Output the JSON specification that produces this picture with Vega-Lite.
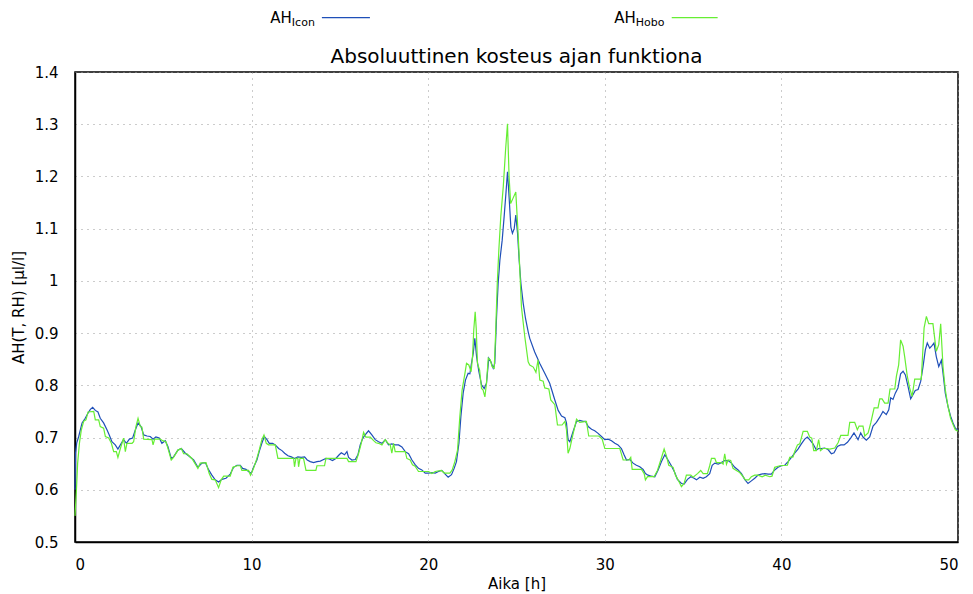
{
  "$schema": "https://vega.github.io/schema/vega-lite/v6.json",
  "width": 883,
  "height": 470,
  "autosize": {"type": "none"},
  "padding": {"left": 75, "top": 72, "right": 15, "bottom": 52},
  "background": "white",
  "config": {
    "font": "DejaVu Sans",
    "view": {"stroke": "black", "strokeWidth": 1.5},
    "axis": {
      "labelFont": "DejaVu Sans",
      "labelFontSize": 15,
      "labelColor": "black",
      "titleFont": "DejaVu Sans",
      "titleFontSize": 15,
      "titleFontWeight": "normal",
      "titleColor": "black",
      "domainColor": "black",
      "domainWidth": 1.5,
      "ticks": false,
      "grid": true,
      "gridColor": "#999999",
      "gridDash": [1, 5],
      "gridWidth": 1
    }
  },
  "datasets": {
    "icon": [
      {"t":0,"v":0.60},{"t":0.03,"v":0.67},{"t":0.10,"v":0.69},{"t":0.21,"v":0.702},{"t":0.40,"v":0.728},{"t":0.58,"v":0.737},{"t":0.74,"v":0.747},{"t":0.87,"v":0.754},{"t":1.00,"v":0.758},{"t":1.15,"v":0.752},{"t":1.30,"v":0.749},{"t":1.43,"v":0.737},{"t":1.62,"v":0.728},{"t":1.81,"v":0.715},{"t":1.94,"v":0.705},{"t":2.09,"v":0.692},{"t":2.28,"v":0.686},{"t":2.43,"v":0.678},{"t":2.57,"v":0.686},{"t":2.75,"v":0.696},{"t":2.91,"v":0.689},{"t":3.08,"v":0.697},{"t":3.26,"v":0.699},{"t":3.42,"v":0.715},{"t":3.57,"v":0.728},{"t":3.74,"v":0.721},{"t":3.89,"v":0.705},{"t":4.08,"v":0.703},{"t":4.26,"v":0.702},{"t":4.42,"v":0.697},{"t":4.58,"v":0.701},{"t":4.77,"v":0.699},{"t":4.92,"v":0.689},{"t":5.11,"v":0.694},{"t":5.26,"v":0.683},{"t":5.45,"v":0.660},{"t":5.58,"v":0.663},{"t":5.83,"v":0.676},{"t":6.02,"v":0.679},{"t":6.25,"v":0.670},{"t":6.43,"v":0.665},{"t":6.72,"v":0.657},{"t":6.96,"v":0.643},{"t":7.19,"v":0.651},{"t":7.38,"v":0.652},{"t":7.57,"v":0.638},{"t":7.75,"v":0.628},{"t":7.94,"v":0.619},{"t":8.13,"v":0.615},{"t":8.32,"v":0.620},{"t":8.55,"v":0.622},{"t":8.79,"v":0.630},{"t":8.98,"v":0.643},{"t":9.17,"v":0.647},{"t":9.36,"v":0.647},{"t":9.49,"v":0.641},{"t":9.68,"v":0.639},{"t":9.83,"v":0.635},{"t":9.98,"v":0.631},{"t":10.11,"v":0.643},{"t":10.30,"v":0.657},{"t":10.43,"v":0.673},{"t":10.58,"v":0.689},{"t":10.72,"v":0.702},{"t":10.87,"v":0.696},{"t":11.00,"v":0.689},{"t":11.19,"v":0.689},{"t":11.34,"v":0.686},{"t":11.53,"v":0.679},{"t":11.72,"v":0.675},{"t":11.87,"v":0.670},{"t":12.06,"v":0.665},{"t":12.25,"v":0.663},{"t":12.43,"v":0.660},{"t":12.62,"v":0.663},{"t":12.81,"v":0.662},{"t":13.00,"v":0.663},{"t":13.15,"v":0.657},{"t":13.32,"v":0.654},{"t":13.51,"v":0.652},{"t":13.70,"v":0.654},{"t":13.89,"v":0.655},{"t":14.08,"v":0.658},{"t":14.21,"v":0.660},{"t":14.40,"v":0.659},{"t":14.58,"v":0.656},{"t":14.77,"v":0.660},{"t":14.96,"v":0.667},{"t":15.08,"v":0.671},{"t":15.26,"v":0.667},{"t":15.40,"v":0.673},{"t":15.49,"v":0.662},{"t":15.68,"v":0.657},{"t":15.87,"v":0.658},{"t":16.02,"v":0.667},{"t":16.15,"v":0.686},{"t":16.30,"v":0.699},{"t":16.43,"v":0.705},{"t":16.62,"v":0.713},{"t":16.81,"v":0.705},{"t":17.00,"v":0.696},{"t":17.19,"v":0.692},{"t":17.38,"v":0.689},{"t":17.57,"v":0.696},{"t":17.75,"v":0.686},{"t":17.94,"v":0.688},{"t":18.13,"v":0.686},{"t":18.32,"v":0.686},{"t":18.51,"v":0.682},{"t":18.70,"v":0.673},{"t":18.89,"v":0.669},{"t":19.08,"v":0.657},{"t":19.26,"v":0.648},{"t":19.45,"v":0.641},{"t":19.64,"v":0.638},{"t":19.83,"v":0.632},{"t":20.02,"v":0.632},{"t":20.21,"v":0.633},{"t":20.40,"v":0.632},{"t":20.58,"v":0.635},{"t":20.77,"v":0.637},{"t":20.96,"v":0.630},{"t":21.13,"v":0.624},{"t":21.32,"v":0.629},{"t":21.47,"v":0.641},{"t":21.60,"v":0.654},{"t":21.74,"v":0.689},{"t":21.85,"v":0.740},{"t":21.98,"v":0.785},{"t":22.11,"v":0.810},{"t":22.26,"v":0.823},{"t":22.36,"v":0.822},{"t":22.45,"v":0.842},{"t":22.55,"v":0.861},{"t":22.64,"v":0.890},{"t":22.74,"v":0.855},{"t":22.87,"v":0.826},{"t":23.02,"v":0.801},{"t":23.17,"v":0.794},{"t":23.30,"v":0.804},{"t":23.43,"v":0.852},{"t":23.55,"v":0.845},{"t":23.68,"v":0.833},{"t":23.77,"v":0.842},{"t":23.87,"v":0.931},{"t":23.96,"v":0.995},{"t":24.06,"v":1.040},{"t":24.19,"v":1.078},{"t":24.30,"v":1.123},{"t":24.40,"v":1.167},{"t":24.49,"v":1.209},{"t":24.58,"v":1.161},{"t":24.68,"v":1.103},{"t":24.77,"v":1.091},{"t":24.87,"v":1.100},{"t":24.96,"v":1.126},{"t":25.06,"v":1.091},{"t":25.15,"v":1.040},{"t":25.25,"v":0.995},{"t":25.38,"v":0.957},{"t":25.51,"v":0.928},{"t":25.66,"v":0.903},{"t":25.75,"v":0.890},{"t":26.03,"v":0.864},{"t":26.32,"v":0.842},{"t":26.60,"v":0.823},{"t":26.88,"v":0.804},{"t":27.17,"v":0.772},{"t":27.36,"v":0.752},{"t":27.55,"v":0.741},{"t":27.74,"v":0.738},{"t":27.83,"v":0.728},{"t":27.92,"v":0.696},{"t":28.02,"v":0.692},{"t":28.21,"v":0.712},{"t":28.40,"v":0.731},{"t":28.58,"v":0.733},{"t":28.77,"v":0.731},{"t":28.91,"v":0.731},{"t":29.06,"v":0.721},{"t":29.25,"v":0.716},{"t":29.43,"v":0.713},{"t":29.62,"v":0.708},{"t":29.81,"v":0.702},{"t":30.00,"v":0.696},{"t":30.19,"v":0.697},{"t":30.38,"v":0.694},{"t":30.57,"v":0.689},{"t":30.75,"v":0.686},{"t":30.94,"v":0.679},{"t":31.09,"v":0.667},{"t":31.23,"v":0.657},{"t":31.42,"v":0.658},{"t":31.60,"v":0.651},{"t":31.79,"v":0.647},{"t":31.98,"v":0.644},{"t":32.17,"v":0.639},{"t":32.30,"v":0.631},{"t":32.45,"v":0.628},{"t":32.64,"v":0.626},{"t":32.83,"v":0.625},{"t":33.02,"v":0.638},{"t":33.21,"v":0.654},{"t":33.40,"v":0.667},{"t":33.58,"v":0.657},{"t":33.77,"v":0.646},{"t":33.96,"v":0.633},{"t":34.11,"v":0.620},{"t":34.34,"v":0.612},{"t":34.49,"v":0.611},{"t":34.68,"v":0.620},{"t":34.87,"v":0.625},{"t":35.06,"v":0.622},{"t":35.19,"v":0.619},{"t":35.38,"v":0.624},{"t":35.57,"v":0.622},{"t":35.75,"v":0.625},{"t":35.94,"v":0.631},{"t":36.08,"v":0.647},{"t":36.23,"v":0.651},{"t":36.42,"v":0.649},{"t":36.60,"v":0.652},{"t":36.79,"v":0.656},{"t":36.98,"v":0.656},{"t":37.17,"v":0.651},{"t":37.36,"v":0.643},{"t":37.55,"v":0.638},{"t":37.74,"v":0.631},{"t":37.92,"v":0.620},{"t":38.11,"v":0.612},{"t":38.30,"v":0.617},{"t":38.49,"v":0.622},{"t":38.68,"v":0.628},{"t":38.87,"v":0.630},{"t":39.06,"v":0.631},{"t":39.25,"v":0.630},{"t":39.43,"v":0.630},{"t":39.62,"v":0.638},{"t":39.81,"v":0.643},{"t":40.00,"v":0.646},{"t":40.19,"v":0.647},{"t":40.38,"v":0.654},{"t":40.57,"v":0.662},{"t":40.75,"v":0.670},{"t":40.94,"v":0.678},{"t":41.13,"v":0.688},{"t":41.32,"v":0.697},{"t":41.47,"v":0.701},{"t":41.60,"v":0.696},{"t":41.79,"v":0.688},{"t":41.98,"v":0.676},{"t":42.11,"v":0.679},{"t":42.26,"v":0.679},{"t":42.45,"v":0.680},{"t":42.64,"v":0.677},{"t":42.83,"v":0.669},{"t":42.98,"v":0.671},{"t":43.17,"v":0.683},{"t":43.36,"v":0.686},{"t":43.55,"v":0.686},{"t":43.74,"v":0.691},{"t":43.92,"v":0.699},{"t":44.11,"v":0.709},{"t":44.25,"v":0.701},{"t":44.34,"v":0.696},{"t":44.49,"v":0.709},{"t":44.62,"v":0.701},{"t":44.81,"v":0.695},{"t":45.00,"v":0.701},{"t":45.19,"v":0.722},{"t":45.38,"v":0.729},{"t":45.57,"v":0.739},{"t":45.75,"v":0.750},{"t":45.94,"v":0.744},{"t":46.08,"v":0.753},{"t":46.19,"v":0.776},{"t":46.32,"v":0.773},{"t":46.45,"v":0.785},{"t":46.60,"v":0.795},{"t":46.75,"v":0.822},{"t":46.89,"v":0.827},{"t":47.02,"v":0.820},{"t":47.17,"v":0.798},{"t":47.32,"v":0.774},{"t":47.45,"v":0.782},{"t":47.58,"v":0.790},{"t":47.74,"v":0.792},{"t":47.89,"v":0.808},{"t":48.02,"v":0.836},{"t":48.15,"v":0.868},{"t":48.26,"v":0.881},{"t":48.40,"v":0.871},{"t":48.53,"v":0.876},{"t":48.64,"v":0.881},{"t":48.77,"v":0.855},{"t":48.91,"v":0.836},{"t":49.06,"v":0.848},{"t":49.15,"v":0.824},{"t":49.28,"v":0.785},{"t":49.43,"v":0.760},{"t":49.58,"v":0.741},{"t":49.72,"v":0.728},{"t":49.85,"v":0.718},{"t":50.00,"v":0.714}
    ],
    "hobo": [
      {"t":0,"v":0.55},{"t":0.08,"v":0.599},{"t":0.15,"v":0.651},{"t":0.25,"v":0.689},{"t":0.36,"v":0.715},{"t":0.49,"v":0.731},{"t":0.62,"v":0.734},{"t":0.74,"v":0.749},{"t":1.06,"v":0.750},{"t":1.15,"v":0.734},{"t":1.34,"v":0.734},{"t":1.43,"v":0.721},{"t":1.62,"v":0.718},{"t":1.72,"v":0.702},{"t":1.91,"v":0.699},{"t":2.06,"v":0.689},{"t":2.19,"v":0.673},{"t":2.34,"v":0.673},{"t":2.43,"v":0.662},{"t":2.57,"v":0.679},{"t":2.75,"v":0.699},{"t":2.85,"v":0.673},{"t":2.94,"v":0.689},{"t":3.23,"v":0.689},{"t":3.32,"v":0.692},{"t":3.45,"v":0.721},{"t":3.57,"v":0.737},{"t":3.70,"v":0.721},{"t":3.79,"v":0.720},{"t":3.89,"v":0.697},{"t":4.36,"v":0.696},{"t":4.42,"v":0.686},{"t":4.51,"v":0.697},{"t":4.83,"v":0.697},{"t":4.96,"v":0.694},{"t":5.15,"v":0.692},{"t":5.30,"v":0.675},{"t":5.45,"v":0.657},{"t":5.58,"v":0.662},{"t":5.83,"v":0.676},{"t":6.02,"v":0.679},{"t":6.15,"v":0.669},{"t":6.34,"v":0.669},{"t":6.62,"v":0.660},{"t":6.96,"v":0.641},{"t":7.09,"v":0.651},{"t":7.42,"v":0.652},{"t":7.60,"v":0.631},{"t":7.75,"v":0.620},{"t":7.94,"v":0.619},{"t":8.13,"v":0.604},{"t":8.28,"v":0.619},{"t":8.42,"v":0.626},{"t":8.60,"v":0.626},{"t":8.79,"v":0.626},{"t":8.94,"v":0.643},{"t":9.17,"v":0.646},{"t":9.36,"v":0.646},{"t":9.45,"v":0.637},{"t":9.83,"v":0.637},{"t":9.94,"v":0.628},{"t":10.11,"v":0.641},{"t":10.30,"v":0.660},{"t":10.43,"v":0.676},{"t":10.58,"v":0.696},{"t":10.70,"v":0.705},{"t":10.83,"v":0.689},{"t":10.96,"v":0.686},{"t":11.34,"v":0.686},{"t":11.49,"v":0.660},{"t":12.38,"v":0.660},{"t":12.43,"v":0.644},{"t":12.51,"v":0.660},{"t":12.62,"v":0.660},{"t":12.66,"v":0.644},{"t":12.74,"v":0.660},{"t":12.94,"v":0.660},{"t":13.08,"v":0.637},{"t":13.64,"v":0.637},{"t":13.70,"v":0.646},{"t":14.13,"v":0.646},{"t":14.21,"v":0.660},{"t":15.40,"v":0.660},{"t":15.49,"v":0.654},{"t":15.91,"v":0.654},{"t":16.06,"v":0.670},{"t":16.21,"v":0.689},{"t":16.34,"v":0.710},{"t":16.47,"v":0.701},{"t":16.72,"v":0.701},{"t":16.91,"v":0.694},{"t":17.04,"v":0.690},{"t":17.19,"v":0.689},{"t":17.38,"v":0.686},{"t":17.57,"v":0.696},{"t":17.72,"v":0.689},{"t":17.85,"v":0.686},{"t":17.94,"v":0.670},{"t":18.04,"v":0.689},{"t":18.13,"v":0.673},{"t":18.70,"v":0.673},{"t":18.79,"v":0.660},{"t":18.98,"v":0.657},{"t":19.11,"v":0.648},{"t":19.26,"v":0.645},{"t":19.45,"v":0.635},{"t":20.02,"v":0.635},{"t":20.21,"v":0.631},{"t":20.40,"v":0.635},{"t":20.74,"v":0.637},{"t":20.92,"v":0.632},{"t":21.23,"v":0.632},{"t":21.36,"v":0.638},{"t":21.51,"v":0.654},{"t":21.66,"v":0.676},{"t":21.79,"v":0.740},{"t":21.92,"v":0.791},{"t":22.08,"v":0.823},{"t":22.17,"v":0.842},{"t":22.30,"v":0.839},{"t":22.43,"v":0.826},{"t":22.51,"v":0.855},{"t":22.58,"v":0.906},{"t":22.66,"v":0.941},{"t":22.72,"v":0.909},{"t":22.79,"v":0.842},{"t":22.91,"v":0.829},{"t":23.02,"v":0.794},{"t":23.11,"v":0.791},{"t":23.21,"v":0.778},{"t":23.30,"v":0.804},{"t":23.40,"v":0.852},{"t":23.51,"v":0.849},{"t":23.62,"v":0.836},{"t":23.74,"v":0.833},{"t":23.81,"v":0.893},{"t":23.91,"v":0.995},{"t":24.00,"v":1.059},{"t":24.11,"v":1.123},{"t":24.25,"v":1.180},{"t":24.38,"v":1.250},{"t":24.49,"v":1.301},{"t":24.58,"v":1.200},{"t":24.67,"v":1.148},{"t":24.80,"v":1.158},{"t":24.96,"v":1.170},{"t":25.09,"v":1.091},{"t":25.18,"v":1.027},{"t":25.28,"v":0.950},{"t":25.47,"v":0.893},{"t":25.66,"v":0.845},{"t":25.75,"v":0.839},{"t":25.95,"v":0.835},{"t":26.10,"v":0.825},{"t":26.22,"v":0.849},{"t":26.32,"v":0.810},{"t":26.51,"v":0.808},{"t":26.60,"v":0.795},{"t":26.83,"v":0.793},{"t":26.94,"v":0.772},{"t":27.17,"v":0.763},{"t":27.32,"v":0.724},{"t":27.58,"v":0.724},{"t":27.74,"v":0.731},{"t":27.83,"v":0.715},{"t":27.92,"v":0.670},{"t":28.02,"v":0.679},{"t":28.21,"v":0.708},{"t":28.40,"v":0.735},{"t":28.58,"v":0.729},{"t":28.96,"v":0.731},{"t":29.09,"v":0.703},{"t":29.66,"v":0.703},{"t":29.85,"v":0.697},{"t":30.00,"v":0.679},{"t":30.85,"v":0.679},{"t":31.04,"v":0.657},{"t":31.36,"v":0.657},{"t":31.47,"v":0.662},{"t":31.55,"v":0.639},{"t":32.08,"v":0.639},{"t":32.23,"v":0.631},{"t":32.30,"v":0.619},{"t":32.42,"v":0.625},{"t":32.79,"v":0.625},{"t":32.98,"v":0.637},{"t":33.17,"v":0.657},{"t":33.36,"v":0.678},{"t":33.49,"v":0.665},{"t":33.62,"v":0.647},{"t":33.87,"v":0.643},{"t":34.00,"v":0.628},{"t":34.15,"v":0.619},{"t":34.34,"v":0.606},{"t":34.49,"v":0.612},{"t":34.62,"v":0.628},{"t":34.87,"v":0.628},{"t":35.00,"v":0.624},{"t":35.25,"v":0.631},{"t":35.43,"v":0.637},{"t":35.57,"v":0.631},{"t":35.81,"v":0.631},{"t":35.94,"v":0.646},{"t":36.04,"v":0.660},{"t":36.23,"v":0.660},{"t":36.32,"v":0.652},{"t":36.60,"v":0.652},{"t":36.70,"v":0.649},{"t":36.79,"v":0.669},{"t":36.89,"v":0.649},{"t":36.98,"v":0.657},{"t":37.13,"v":0.656},{"t":37.26,"v":0.641},{"t":37.45,"v":0.637},{"t":37.64,"v":0.633},{"t":37.83,"v":0.625},{"t":37.96,"v":0.619},{"t":38.15,"v":0.619},{"t":38.30,"v":0.625},{"t":38.49,"v":0.628},{"t":38.68,"v":0.628},{"t":38.91,"v":0.625},{"t":39.09,"v":0.628},{"t":39.34,"v":0.625},{"t":39.47,"v":0.626},{"t":39.62,"v":0.643},{"t":39.91,"v":0.646},{"t":40.34,"v":0.647},{"t":40.47,"v":0.662},{"t":40.66,"v":0.663},{"t":40.75,"v":0.673},{"t":40.91,"v":0.686},{"t":41.04,"v":0.688},{"t":41.23,"v":0.712},{"t":41.47,"v":0.712},{"t":41.60,"v":0.701},{"t":41.72,"v":0.699},{"t":41.83,"v":0.675},{"t":41.98,"v":0.675},{"t":42.11,"v":0.696},{"t":42.21,"v":0.675},{"t":42.36,"v":0.679},{"t":42.55,"v":0.679},{"t":42.74,"v":0.678},{"t":43.02,"v":0.680},{"t":43.21,"v":0.690},{"t":43.36,"v":0.704},{"t":43.77,"v":0.704},{"t":43.87,"v":0.729},{"t":44.15,"v":0.729},{"t":44.30,"v":0.715},{"t":44.40,"v":0.722},{"t":44.62,"v":0.722},{"t":44.72,"v":0.703},{"t":44.91,"v":0.709},{"t":45.06,"v":0.728},{"t":45.25,"v":0.757},{"t":45.47,"v":0.757},{"t":45.57,"v":0.774},{"t":45.70,"v":0.774},{"t":45.85,"v":0.766},{"t":46.04,"v":0.766},{"t":46.15,"v":0.793},{"t":46.42,"v":0.793},{"t":46.51,"v":0.817},{"t":46.64,"v":0.839},{"t":46.75,"v":0.887},{"t":46.89,"v":0.875},{"t":46.98,"v":0.855},{"t":47.13,"v":0.817},{"t":47.26,"v":0.795},{"t":47.40,"v":0.779},{"t":47.55,"v":0.812},{"t":47.92,"v":0.812},{"t":48.08,"v":0.910},{"t":48.21,"v":0.932},{"t":48.34,"v":0.918},{"t":48.58,"v":0.918},{"t":48.77,"v":0.865},{"t":48.91,"v":0.878},{"t":49.02,"v":0.918},{"t":49.15,"v":0.836},{"t":49.28,"v":0.792},{"t":49.43,"v":0.760},{"t":49.58,"v":0.737},{"t":49.72,"v":0.725},{"t":49.85,"v":0.715},{"t":50.00,"v":0.712}
    ]
  },
  "layer": [
    {
      "data": {"name": "icon"},
      "mark": {"type": "line", "color": "#1f4fb8", "strokeWidth": 1.2},
      "encoding": {
        "x": {
          "field": "t",
          "type": "quantitative",
          "scale": {"domain": [0, 50], "nice": false},
          "axis": {"title": "Aika [h]", "values": [0, 10, 20, 30, 40, 50], "labelPadding": 15, "titlePadding": 4}
        },
        "y": {
          "field": "v",
          "type": "quantitative",
          "scale": {"domain": [0.5, 1.4], "nice": false, "zero": false},
          "axis": {"title": "AH(T, RH) [µl/l]", "values": [0.5, 0.6, 0.7, 0.8, 0.9, 1, 1.1, 1.2, 1.3, 1.4], "format": "~g", "labelPadding": 17, "titlePadding": 8}
        }
      }
    },
    {
      "data": {"name": "hobo"},
      "mark": {"type": "line", "color": "#66ee33", "strokeWidth": 1.2},
      "encoding": {
        "x": {"field": "t", "type": "quantitative"},
        "y": {"field": "v", "type": "quantitative"}
      }
    },
    {
      "data": {"values": [{}]},
      "mark": {"type": "text", "text": "Absoluuttinen kosteus ajan funktiona", "align": "center", "baseline": "middle", "fontSize": 20, "font": "DejaVu Sans", "color": "black", "clip": false},
      "encoding": {"x": {"datum": 25, "type": "quantitative"}, "y": {"datum": 1.428, "type": "quantitative"}}
    },
    {
      "data": {"values": [{}]},
      "mark": {"type": "text", "text": "AH", "align": "right", "baseline": "middle", "fontSize": 15, "font": "DejaVu Sans", "color": "black", "clip": false},
      "encoding": {"x": {"datum": 12.28, "type": "quantitative"}, "y": {"datum": 1.504, "type": "quantitative"}}
    },
    {
      "data": {"values": [{}]},
      "mark": {"type": "text", "text": "Icon", "align": "left", "baseline": "middle", "dy": 5, "fontSize": 11, "font": "DejaVu Sans", "color": "black", "clip": false},
      "encoding": {"x": {"datum": 12.28, "type": "quantitative"}, "y": {"datum": 1.504, "type": "quantitative"}}
    },
    {
      "data": {"values": [{}]},
      "mark": {"type": "rule", "color": "#1f4fb8", "strokeWidth": 1.2, "clip": false},
      "encoding": {"x": {"datum": 13.98, "type": "quantitative"}, "x2": {"datum": 16.70}, "y": {"datum": 1.504, "type": "quantitative"}}
    },
    {
      "data": {"values": [{}]},
      "mark": {"type": "text", "text": "AH", "align": "right", "baseline": "middle", "fontSize": 15, "font": "DejaVu Sans", "color": "black", "clip": false},
      "encoding": {"x": {"datum": 31.75, "type": "quantitative"}, "y": {"datum": 1.504, "type": "quantitative"}}
    },
    {
      "data": {"values": [{}]},
      "mark": {"type": "text", "text": "Hobo", "align": "left", "baseline": "middle", "dy": 5, "fontSize": 11, "font": "DejaVu Sans", "color": "black", "clip": false},
      "encoding": {"x": {"datum": 31.75, "type": "quantitative"}, "y": {"datum": 1.504, "type": "quantitative"}}
    },
    {
      "data": {"values": [{}]},
      "mark": {"type": "rule", "color": "#66ee33", "strokeWidth": 1.2, "clip": false},
      "encoding": {"x": {"datum": 33.79, "type": "quantitative"}, "x2": {"datum": 36.39}, "y": {"datum": 1.504, "type": "quantitative"}}
    }
  ]
}
